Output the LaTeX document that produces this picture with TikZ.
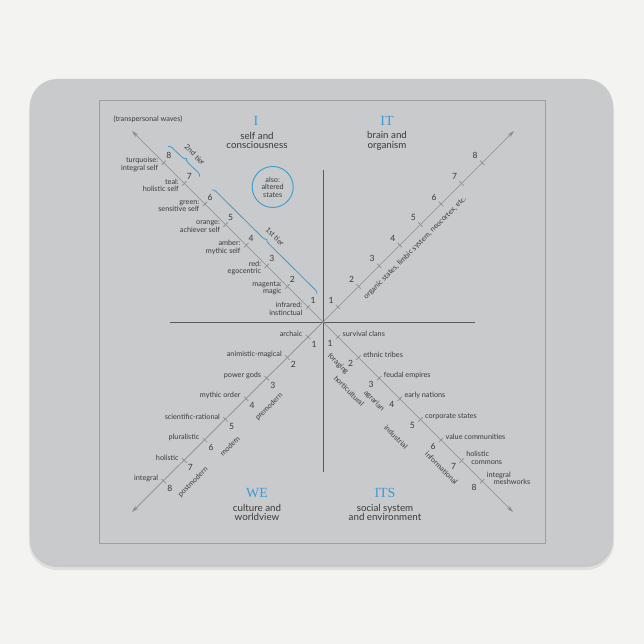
\documentclass[tikz,border=0pt]{standalone}
\usepackage{fontspec}
\setmainfont{Lato}
\newfontfamily\quadfont{Liberation Serif}
\usetikzlibrary{positioning}
\usetikzlibrary{arrows.meta}
\usetikzlibrary{decorations.pathreplacing}
\definecolor{deskwhite}{HTML}{F3F3F1}
\definecolor{padgray}{HTML}{C8CACC}
\definecolor{framegray}{HTML}{9C9EA0}
\definecolor{quadblue}{HTML}{3C9BD2}
\definecolor{inkgray}{HTML}{3A3A3A}
\definecolor{diaggray}{HTML}{8A8C8E}

\begin{document}
\begin{tikzpicture}[x=1bp, y=1bp,
    diag/.style={diaggray, line width=0.7bp, -{Stealth[length=7bp, width=4bp]}},
    crossline/.style={black!65, line width=0.9bp},
    tickmark/.style={diaggray, line width=0.7bp},
    stage/.style={font=\fontsize{7.3}{7.6}\selectfont, text=inkgray, inner sep=0.5bp},
    num/.style={font=\fontsize{8.6}{8.6}\selectfont, text=inkgray, inner sep=0pt},
    quad/.style={font=\quadfont\fontsize{14}{14}\selectfont, text=quadblue, inner sep=0pt},
    qtext/.style={font=\fontsize{9.8}{9.8}\selectfont, text=inkgray, align=center, inner sep=0pt},
    tier/.style={quadblue, line width=0.8bp, decorate, decoration={brace, amplitude=4bp}}]

  % Desk and pad
  \useasboundingbox (-323,-322) rectangle (321,322);
  \fill[deskwhite] (-323,-322) rectangle (321,322);
  \fill[black, opacity=0.08, rounded corners=28bp] (-294,-248) rectangle (291,240);
  \fill[black, opacity=0.10, rounded corners=27bp] (-293,-245) rectangle (290,240);
  \fill[padgray, rounded corners=27bp] (-293,-242) rectangle (290,243);
  \draw[framegray, line width=0.8bp] (-224,-221) rectangle (222,222);

  % Cross
  \coordinate (o) at (0,0);
  \coordinate (vtop) at (0,152);
  \coordinate (vbot) at (0,-150);
  \coordinate (hleft) at (-153,0);
  \coordinate (hright) at (152,0);
  \draw[crossline] (vtop) -- (vbot);
  \draw[crossline] (hleft) -- (hright);

  % Diagonals
  \coordinate (ultip) at (-191,191);
  \coordinate (urtip) at (191,191);
  \coordinate (lltip) at (-191,-190);
  \coordinate (lrtip) at (190,-190);
  \foreach \tip in {ultip,urtip,lltip,lrtip}
    \draw[diag] (o) -- (\tip);

  % Ticks and numbers
  \foreach \k in {1,...,8} {
    \pgfmathsetmacro{\d}{15+(\k-1)*20.6}
    \coordinate (ul\k) at (-\d,\d);
    \coordinate (ur\k) at (\d,\d);
    \coordinate (ll\k) at (-\d,-\d);
    \coordinate (lr\k) at (\d,-\d);
    \draw[tickmark] (-\d-2.2,\d-2.2) -- (-\d+2.2,\d+2.2);
    \draw[tickmark] (\d+2.2,\d-2.2) -- (\d-2.2,\d+2.2);
    \draw[tickmark] (-\d+2.2,-\d-2.2) -- (-\d-2.2,-\d+2.2);
    \draw[tickmark] (\d-2.2,-\d-2.2) -- (\d+2.2,-\d+2.2);
    \node[num, shift={(5,7)}] (nul\k) at (ul\k) {\k};
    \node[num, shift={(-7,7)}] (nur\k) at (ur\k) {\k};
    \node[num, shift={(6,-7)}] (nll\k) at (ll\k) {\k};
    \node[num, shift={(-8,-6)}] (nlr\k) at (lr\k) {\k};
  }

  % I: waves of self
  \foreach \k/\txt in {1/{infrared:\\instinctual}, 2/{magenta:\\magic},
      3/{red:\\egocentric}, 4/{amber:\\mythic self}, 5/{orange:\\achiever self},
      6/{green:\\sensitive self}, 7/{teal:\\holistic self}, 8/{turquoise:\\integral self}}
    \node[stage, anchor=east, align=right, shift={(-5,-2)}] (sul\k) at (ul\k) {\txt};

  % WE: worldviews
  \foreach \k/\txt in {1/archaic, 2/animistic-magical, 3/power gods, 4/mythic order,
      5/scientific-rational, 6/pluralistic, 7/holistic, 8/integral}
    \node[stage, anchor=east, shift={(-5,3)}] (sll\k) at (ll\k) {\txt};

  % ITS: social systems
  \foreach \k/\txt in {1/survival clans, 2/ethnic tribes, 3/feudal empires, 4/early nations,
      5/corporate states, 6/value communities, 7/{holistic\\\hspace*{5bp}commons},
      8/{integral\\\hspace*{7bp}meshworks}}
    \node[stage, anchor=west, align=left, shift={(4,3)}] (slr\k) at (lr\k) {\txt};

  % Rotated labels
  \node[stage, rotate=45] (organic) at (92,74) {organic states, limbic system, neocortex, etc.};
  \node[stage, rotate=45] (premodern) at (-54,-85) {premodern};
  \node[stage, rotate=45] (modern) at (-93,-124) {modern};
  \node[stage, rotate=45] (postmodern) at (-130,-160) {postmodern};
  \node[stage, rotate=-45] (foraging) at (15,-42) {foraging};
  \node[stage, rotate=-45] (horticultural) at (26,-69) {horticultural};
  \node[stage, rotate=-45] (agrarian) at (51,-79) {agrarian};
  \node[stage, rotate=-45] (industrial) at (73,-115) {industrial};
  \node[stage, rotate=-45] (informational) at (118.5,-146) {informational};

  % Quadrant titles
  \node[quad] (qi) at (-67,201) {I};
  \node[qtext] (qitext) at (-66,181.5) {self and\\consciousness};
  \node[quad] (qit) at (64,201) {IT};
  \node[qtext] (qittext) at (64,181.5) {brain and\\organism};
  \node[quad] (qwe) at (-66,-171) {WE};
  \node[qtext] (qwetext) at (-66,-190.5) {culture and\\worldview};
  \node[quad] (qits) at (62,-171) {ITS};
  \node[qtext] (qitstext) at (62,-190.5) {social system\\and environment};

  % Waves note, states and tiers
  \node[stage, anchor=west] (waves) at (-210,203) {(transpersonal waves)};
  \node[stage, align=center, draw=quadblue, line width=0.9bp, circle,
        minimum size=41bp, inner sep=0pt] (states) at (-50.3,135) {also:\\altered\\states};
  \coordinate (tiertwoa) at (-155,175.5);
  \coordinate (tiertwob) at (-123.4,145.4);
  \coordinate (tieronea) at (-111.3,132);
  \coordinate (tieroneb) at (-6.3,28);
  \draw[tier] (tiertwoa) -- (tiertwob);
  \draw[tier] (tieronea) -- (tieroneb);
  \node[stage, rotate=-45] (tiertwo) at (-128,167) {2nd tier};
  \node[stage, rotate=-45] (tierone) at (-48,85.3) {1st tier};
\end{tikzpicture}
\end{document}
